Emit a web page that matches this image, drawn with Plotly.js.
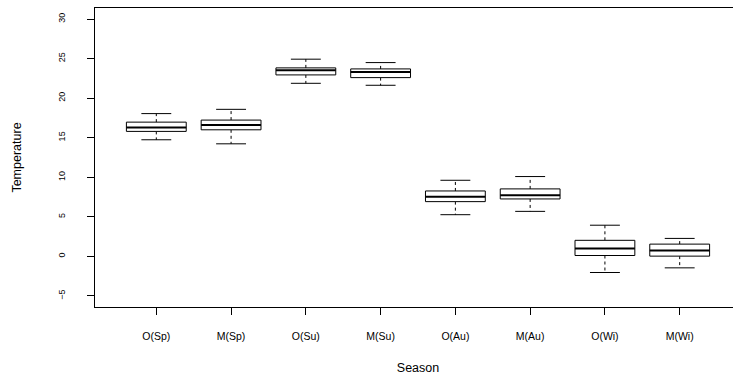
<!DOCTYPE html>
<html>
<head>
<meta charset="utf-8">
<script src="https://cdn.plot.ly/plotly-3.0.1.min.js"></script>
<style>
  html, body { margin: 0; padding: 0; overflow: hidden; background: #fff; }
  #chart { width: 745px; height: 376px; }
</style>
</head>
<body>
<div id="chart"></div>
<script>
// Data
var categories = ["O(Sp)", "M(Sp)", "O(Su)", "M(Su)", "O(Au)", "M(Au)", "O(Wi)", "M(Wi)"];
var lowerWhisker = [14.74, 14.23, 21.88, 21.63, 5.27, 5.69, -2.04, -1.45];
var q1Values     = [15.80, 16.00, 22.94, 22.60, 6.92, 7.26, 0.11, 0.03];
var medianValues = [16.30, 16.60, 23.53, 23.32, 7.55, 7.72, 1.00, 0.75];
var q3Values     = [16.97, 17.23, 23.83, 23.70, 8.27, 8.53, 2.03, 1.55];
var upperWhisker = [18.05, 18.59, 24.93, 24.50, 9.62, 10.09, 3.94, 2.27];
var yTickValues  = [-5, 0, 5, 10, 15, 20, 25, 30];

// Style constants
var BOX_HALF = 0.4;   // half box width (x units)
var CAP_HALF = 0.2;   // half staple width
var FONT = "Liberation Sans, Arial, Helvetica, sans-serif";

var positions = categories.map(function (_, i) { return i + 1; });

function segs(fn) {
  var xs = [], ys = [];
  positions.forEach(function (p, i) {
    var s = fn(p, i);
    xs.push(s[0][0], s[1][0], null);
    ys.push(s[0][1], s[1][1], null);
  });
  return { x: xs, y: ys };
}

// whiskers (dashed)
var wUp = segs(function (p, i) { return [[p, q3Values[i]], [p, upperWhisker[i]]]; });
var wLo = segs(function (p, i) { return [[p, q1Values[i]], [p, lowerWhisker[i]]]; });
var whiskers = { x: wUp.x.concat(wLo.x), y: wUp.y.concat(wLo.y) };

// caps
var cUp = segs(function (p, i) { return [[p - CAP_HALF, upperWhisker[i]], [p + CAP_HALF, upperWhisker[i]]]; });
var cLo = segs(function (p, i) { return [[p - CAP_HALF, lowerWhisker[i]], [p + CAP_HALF, lowerWhisker[i]]]; });
var caps = { x: cUp.x.concat(cLo.x), y: cUp.y.concat(cLo.y) };

// boxes (closed rectangles)
var bx = [], by = [];
positions.forEach(function (p, i) {
  bx.push(p - BOX_HALF, p + BOX_HALF, p + BOX_HALF, p - BOX_HALF, p - BOX_HALF, null);
  by.push(q1Values[i], q1Values[i], q3Values[i], q3Values[i], q1Values[i], null);
});

// medians
var med = segs(function (p, i) { return [[p - BOX_HALF, medianValues[i]], [p + BOX_HALF, medianValues[i]]]; });

var traces = [
  { type: "scatter", mode: "lines", x: whiskers.x, y: whiskers.y, hoverinfo: "skip",
    line: { color: "#000", width: 1, dash: "3px,3px" }, showlegend: false },
  { type: "scatter", mode: "lines", x: caps.x, y: caps.y, hoverinfo: "skip",
    line: { color: "#000", width: 1 }, showlegend: false },
  { type: "scatter", mode: "lines", x: bx, y: by, fill: "toself", fillcolor: "#fff", hoverinfo: "skip",
    line: { color: "#000", width: 1 }, showlegend: false },
  { type: "scatter", mode: "lines", x: med.x, y: med.y, hoverinfo: "skip",
    line: { color: "#000", width: 2 }, showlegend: false }
];

var layout = {
  width: 745,
  height: 376,
  margin: { l: 95, r: 4, t: 8, b: 69 },
  paper_bgcolor: "#fff",
  plot_bgcolor: "#fff",
  font: { family: FONT, color: "#000" },
  showlegend: false,
  xaxis: {
    range: [0.18, 8.82],
    tickmode: "array",
    tickvals: positions,
    ticktext: categories,
    ticks: "outside",
    ticklen: 7,
    tickwidth: 1,
    tickcolor: "#000",
    showgrid: false,
    zeroline: false,
    showline: true,
    mirror: true,
    linecolor: "#000",
    linewidth: 1,
    tickfont: { family: FONT, size: 10.5, color: "#000" },
    ticklabelstandoff: 12,
    title: { text: "Season", font: { family: FONT, size: 12.5, color: "#000" }, standoff: 22 }
  },
  yaxis: {
    range: [-6.4, 31.4],
    tickmode: "array",
    tickvals: yTickValues,
    ticktext: yTickValues.map(function (v) { return v < 0 ? "\u2212" + Math.abs(v) : String(v); }),
    tickangle: -90,
    ticks: "outside",
    ticklen: 7,
    tickwidth: 1,
    tickcolor: "#000",
    showgrid: false,
    zeroline: false,
    showline: true,
    mirror: true,
    linecolor: "#000",
    linewidth: 1,
    tickfont: { family: FONT, size: 9, color: "#000" },
    ticklabelstandoff: 18,
    title: { text: "Temperature", font: { family: FONT, size: 12.5, color: "#000" }, standoff: 33 }
  }
};

Plotly.newPlot("chart", traces, layout, { staticPlot: true, displayModeBar: false });
</script>
</body>
</html>
